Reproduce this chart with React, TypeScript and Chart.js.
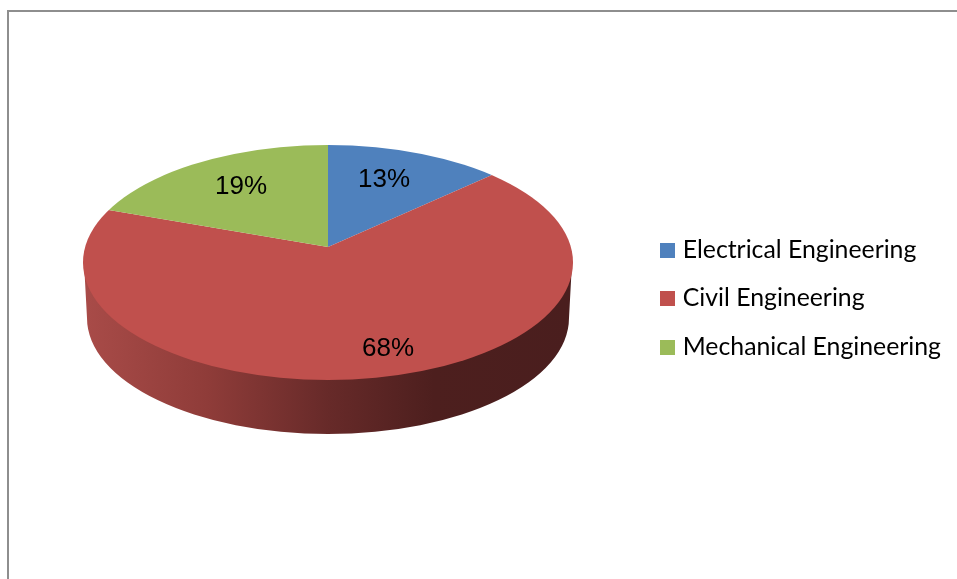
import React, { useEffect, useRef } from "react";
import { Chart, registerables } from "chart.js";

Chart.register(...registerables);

const categories = ["Electrical Engineering", "Civil Engineering", "Mechanical Engineering"];
const shares = [13, 68, 19];
const sliceColors = ["#4f81bd", "#c0504d", "#9bbb59"];

// Projection of the flat pie on to the tilted disc
const APEX = { x: 328, y: 247 };
const RIM = { x: 328, y: 262.5, rx: 245, ry: 117.5 };
const FLOOR = { x: 328, y: 318, rx: 241, ry: 116 };
const QUADRANTS = [
  { x: 0, y: 0, w: 328, h: 247, sx: 300, sy: 128 },
  { x: 328, y: 0, w: 629, h: 247, sx: 278, sy: 130 },
  { x: 0, y: 247, w: 957, h: 332, sx: 320, sy: 190 },
];
const LABEL_OFFSETS = [
  [56, -67],
  [60, 102],
  [-87, -60],
];
const WALL_STOPS: [number, string][] = [
  [0, "#a84b48"],
  [0.25, "#8f3c39"],
  [0.5, "#672a29"],
  [0.72, "#4d1f1e"],
  [1, "#4a1e1e"],
];

function swatch(color: string) {
  const c = document.createElement("canvas");
  c.width = 15;
  c.height = 15;
  const g = c.getContext("2d")!;
  g.fillStyle = color;
  g.fillRect(0, 0, 15, 15);
  return c;
}

const frame = {
  id: "frame",
  beforeDraw(chart: any) {
    const { ctx, width, height } = chart;
    ctx.save();
    ctx.fillStyle = "#8e8e8e";
    ctx.fillRect(7, 10, width - 7, 2);
    ctx.fillRect(7, 10, 2, height - 10);
    ctx.restore();
  },
};

const disc = {
  id: "disc",
  beforeDatasetDraw(chart: any, args: any) {
    const { ctx } = chart;
    const arcs = args.meta.data;
    const R = arcs[0].outerRadius;
    const cx = arcs[0].x;
    const cy = arcs[0].y;

    // side wall
    const grad = ctx.createLinearGradient(FLOOR.x - FLOOR.rx, 0, FLOOR.x + FLOOR.rx, 0);
    WALL_STOPS.forEach(([p, c]) => grad.addColorStop(p, c));
    ctx.save();
    ctx.beginPath();
    ctx.moveTo(RIM.x - RIM.rx + 1, RIM.y);
    ctx.lineTo(FLOOR.x - FLOOR.rx, FLOOR.y);
    ctx.ellipse(FLOOR.x, FLOOR.y, FLOOR.rx, FLOOR.ry, 0, Math.PI, 0, true);
    ctx.lineTo(RIM.x + RIM.rx - 1, RIM.y);
    ctx.closePath();
    ctx.fillStyle = grad;
    ctx.fill();
    ctx.restore();

    // top face
    ctx.save();
    ctx.beginPath();
    ctx.ellipse(RIM.x, RIM.y, RIM.rx, RIM.ry, 0, 0, Math.PI * 2);
    ctx.clip();
    QUADRANTS.forEach((q) => {
      ctx.save();
      ctx.beginPath();
      ctx.rect(q.x, q.y, q.w, q.h);
      ctx.clip();
      ctx.translate(APEX.x, APEX.y);
      ctx.scale(q.sx / R, q.sy / R);
      ctx.translate(-cx, -cy);
      arcs.forEach((a: any) => a.draw(ctx));
      ctx.restore();
    });
    ctx.restore();
    return false;
  },
  afterDatasetsDraw(chart: any) {
    const { ctx } = chart;
    const values = chart.data.datasets[0].data;
    ctx.save();
    ctx.font = '26px "Liberation Sans", Arial, sans-serif';
    ctx.fillStyle = "#000";
    ctx.textAlign = "center";
    ctx.textBaseline = "middle";
    values.forEach((v: number, i: number) => {
      ctx.fillText(`${v}%`, APEX.x + LABEL_OFFSETS[i][0], APEX.y + LABEL_OFFSETS[i][1]);
    });
    ctx.restore();
  },
};

export default function App() {
  const ref = useRef<HTMLCanvasElement>(null);
  useEffect(() => {
    const chart = new Chart(ref.current!, {
      type: "pie",
      data: {
        labels: categories,
        datasets: [{ data: shares, backgroundColor: sliceColors, borderWidth: 0 }],
      },
      options: {
        responsive: false,
        animation: false,
        layout: { padding: { top: 18, right: 6 } },
        plugins: {
          tooltip: { enabled: false },
          title: { display: false },
          legend: {
            position: "right",
            labels: {
              usePointStyle: true,
              pointStyleWidth: 6,
              padding: 23.7,
              color: "#0d0d0d",
              font: { family: "Lato, Carlito, sans-serif", size: 24.8, lineHeight: 1.2 },
              generateLabels: () =>
                categories.map((text, i) => ({
                  text,
                  index: i,
                  fillStyle: sliceColors[i],
                  strokeStyle: sliceColors[i],
                  lineWidth: 0,
                  pointStyle: swatch(sliceColors[i]),
                })),
            },
          },
        },
      } as any,
      plugins: [frame, disc],
    });
    return () => chart.destroy();
  }, []);
  return (
    <div style={{ position: "absolute", left: 0, top: 0, width: 957, height: 579, background: "#fff" }}>
      <canvas ref={ref} width={957} height={579} style={{ display: "block" }} />
    </div>
  );
}
